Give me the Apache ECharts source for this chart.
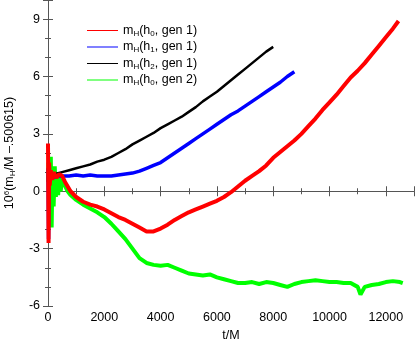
<!DOCTYPE html>
<html>
<head>
<meta charset="utf-8">
<script src="https://cdn.jsdelivr.net/npm/echarts@6/dist/echarts.min.js"></script>
<style>
  html, body { margin: 0; padding: 0; background: #fff; }
  #chart { width: 415px; height: 349px; }
</style>
</head>
<body>
<div id="chart"></div>
<script>
// series names, written with rich-text markup for the subscripts
var seriesNames = [
  '{m|m}{s|H}{m|(h}{s|0}{m|, gen 1)}',
  '{m|m}{s|H}{m|(h}{s|1}{m|, gen 1)}',
  '{m|m}{s|H}{m|(h}{s|2}{m|, gen 1)}',
  '{m|m}{s|H}{m|(h}{s|0}{m|, gen 2)}'
]
var seriesColors = ['#ff0000', '#0000ff', '#000000', '#00ff00']
var seriesWidths = [4, 3.5, 2.5, 4]

// h0, gen 1 (red)
var tRed = [0, 20, 40, 60, 100, 150, 200, 300, 400, 500, 600, 800, 1000, 1250, 1500, 1750, 2000, 2250, 2500, 2750,
  3000, 3250, 3500, 3750, 4000, 4250, 4500, 4750, 5000, 5250, 5500, 5750, 6000, 6250, 6500, 6750, 7000, 7250, 7500,
  7750, 8000, 8250, 8500, 8750, 9000, 9250, 9500, 9750, 10000, 10250, 10500, 10750, 11000, 11250, 11500, 11750,
  12000, 12250, 12450]
var vRed = [2.5, -2.7, 1.5, 0.3, 1.1, 0.6, 1.0, 0.7, 0.9, 0.8, 0.5, 0.0, -0.3, -0.55, -0.7, -0.8, -0.95, -1.15, -1.35, -1.5,
  -1.7, -1.9, -2.1, -2.1, -1.95, -1.75, -1.5, -1.3, -1.1, -0.95, -0.8, -0.65, -0.5, -0.3, -0.05, 0.25, 0.55, 0.8, 1.05,
  1.35, 1.75, 2.05, 2.35, 2.65, 3.0, 3.4, 3.8, 4.25, 4.65, 5.05, 5.5, 5.95, 6.3, 6.7, 7.15, 7.6,
  8.05, 8.5, 8.9]

// h1, gen 1 (blue)
var tBlue = [0, 20, 40, 60, 100, 150, 200, 300, 400, 500, 750, 1000, 1250, 1500, 1750, 2000, 2250, 2500, 2750,
  3000, 3250, 3500, 3750, 4000, 4250, 4500, 4750, 5000, 5250, 5500, 5750, 6000, 6250, 6500, 6750, 7000, 7250, 7500,
  7750, 8000, 8250, 8500, 8750]
var vBlue = [1.2, -2.5, 1.0, 0.5, 0.9, 0.7, 0.8, 0.75, 0.8, 0.8, 0.8, 0.85, 0.8, 0.85, 0.8, 0.8, 0.8, 0.85, 0.9,
  0.95, 1.05, 1.2, 1.35, 1.5, 1.75, 2.0, 2.25, 2.5, 2.75, 3.0, 3.25, 3.5, 3.75, 4.0, 4.2, 4.45, 4.7, 4.95,
  5.2, 5.45, 5.7, 6.0, 6.25]

// h2, gen 1 (black)
var tBlack = [0, 250, 500, 750, 1000, 1250, 1500, 1750, 2000, 2250, 2500, 2750, 3000, 3250, 3500, 3750, 4000,
  4250, 4500, 4750, 5000, 5250, 5500, 5750, 6000, 6250, 6500, 6750, 7000, 7250, 7500, 7750, 8000]
var vBlack = [0.8, 0.9, 1.0, 1.1, 1.2, 1.3, 1.4, 1.55, 1.65, 1.8, 2.0, 2.2, 2.45, 2.65, 2.85, 3.05, 3.3,
  3.5, 3.7, 3.9, 4.15, 4.4, 4.7, 4.95, 5.2, 5.5, 5.8, 6.1, 6.4, 6.7, 7.0, 7.3, 7.55]

// h0, gen 2 (green)
var tGreen = [0, 20, 40, 60, 80, 100, 130, 160, 200, 240, 280, 320, 360, 400, 450, 500, 600, 700, 800, 1000, 1250,
  1500, 1750, 2000, 2250, 2500, 2750, 3000, 3250, 3500, 3750, 4000, 4250, 4500, 4750, 5000, 5250, 5500, 5750,
  6000, 6250, 6500, 6750, 7000, 7250, 7500, 7750, 8000, 8250, 8500, 8750, 9000, 9250, 9500, 9750, 10000,
  10250, 10500, 10750, 11000, 11100, 11250, 11500, 11750, 12000, 12250, 12500, 12600]
var vGreen = [0.5, 1.5, -0.5, 1.2, -1.0, 1.8, -1.9, 1.2, -0.8, 1.3, -0.3, 1.0, -0.2, 0.8, 0.0, 0.6, 0.3, 0.0, -0.2, -0.45, -0.7,
  -0.9, -1.1, -1.35, -1.7, -2.1, -2.5, -3.0, -3.5, -3.75, -3.85, -3.9, -3.85, -4.0, -4.15, -4.3, -4.35, -4.4, -4.35,
  -4.5, -4.6, -4.7, -4.8, -4.8, -4.75, -4.85, -4.75, -4.8, -4.9, -5.0, -4.85, -4.75, -4.7, -4.65, -4.7, -4.75,
  -4.75, -4.8, -4.8, -5.0, -5.4, -5.0, -4.9, -4.85, -4.75, -4.7, -4.75, -4.8]

var xTicks = { min: 0, max: 13000, interval: 2000 }
var yTicks = { min: -6, max: 10, interval: 3 }

function pairs(t, v) {
  return t.map(function (x, i) { return [x, v[i]] })
}

var allT = [tRed, tBlue, tBlack, tGreen]
var allV = [vRed, vBlue, vBlack, vGreen]

var font = 'Liberation Sans, Arial, Helvetica, sans-serif'
var axisLine = { lineStyle: { color: '#555', width: 1 } }
var tick = { inside: true, length: 5, lineStyle: { color: '#555' } }

var chart = echarts.init(document.getElementById('chart'), null, { renderer: 'canvas' })
chart.setOption({
  animation: false,
  backgroundColor: '#fff',
  grid: { left: 48, right: 1, top: 0, bottom: 43, containLabel: false, outerBoundsMode: 'none' },
  legend: {
    orient: 'vertical',
    left: 82,
    top: 19,
    itemWidth: 31,
    itemHeight: 1,
    itemGap: 3,
    icon: 'rect',
    data: seriesNames,
    textStyle: {
      fontFamily: font,
      color: '#000',
      rich: {
        m: { fontSize: 12.5, fontFamily: font, color: '#000' },
        s: { fontSize: 8, fontFamily: font, color: '#000', verticalAlign: 'bottom', padding: [6, 0, 0, 0] }
      }
    }
  },
  xAxis: [{
    type: 'value',
    min: xTicks.min,
    max: xTicks.max,
    interval: xTicks.interval,
    name: 't/M',
    nameLocation: 'middle',
    nameGap: 22,
    nameTextStyle: { fontFamily: font, fontSize: 12.5, color: '#000' },
    axisLine: axisLine,
    axisTick: tick,
    minorTick: { show: true, splitNumber: 2, length: 3, lineStyle: { color: '#555' } },
    axisLabel: { fontFamily: font, fontSize: 12.5, color: '#000', margin: 5, showMaxLabel: false,
      formatter: function (v) { return String(v) } },
    splitLine: { show: false }
  }, {
    type: 'value',
    position: 'top',
    min: xTicks.min,
    max: xTicks.max,
    interval: xTicks.interval,
    axisLine: axisLine,
    axisTick: tick,
    minorTick: { show: true, splitNumber: 2, length: 3, lineStyle: { color: '#555' } },
    axisLabel: { show: false },
    splitLine: { show: false }
  }],
  yAxis: [{
    type: 'value',
    min: yTicks.min,
    max: yTicks.max,
    interval: yTicks.interval,
    name: '{a|10}{p|6}{a|(m}{s|H}{a|/M –.500615)}',
    nameLocation: 'middle',
    nameGap: 31,
    nameRotate: 90,
    nameTextStyle: {
      rich: {
        a: { fontFamily: font, fontSize: 12.5, color: '#000' },
        p: { fontFamily: font, fontSize: 8, color: '#000', verticalAlign: 'top', padding: [0, 0, 6, 0] },
        s: { fontFamily: font, fontSize: 8, color: '#000', verticalAlign: 'bottom', padding: [6, 0, 0, 0] }
      }
    },
    axisLine: axisLine,
    axisTick: tick,
    minorTick: { show: true, splitNumber: 3, length: 3, lineStyle: { color: '#555' } },
    axisLabel: { fontFamily: font, fontSize: 12.5, color: '#000', margin: 8, showMaxLabel: false,
      formatter: function (v) { return String(v) } },
    splitLine: { show: false }
  }, {
    type: 'value',
    position: 'right',
    min: yTicks.min,
    max: yTicks.max,
    interval: yTicks.interval,
    axisLine: axisLine,
    axisTick: tick,
    minorTick: { show: true, splitNumber: 3, length: 3, lineStyle: { color: '#555' } },
    axisLabel: { show: false },
    splitLine: { show: false }
  }],
  series: seriesNames.map(function (name, i) {
    return {
      name: name,
      type: 'line',
      data: pairs(allT[i], allV[i]),
      showSymbol: false,
      itemStyle: { color: seriesColors[i] },
      lineStyle: { color: seriesColors[i], width: seriesWidths[i] },
      z: 4 - i
    }
  })
})
</script>
</body>
</html>
